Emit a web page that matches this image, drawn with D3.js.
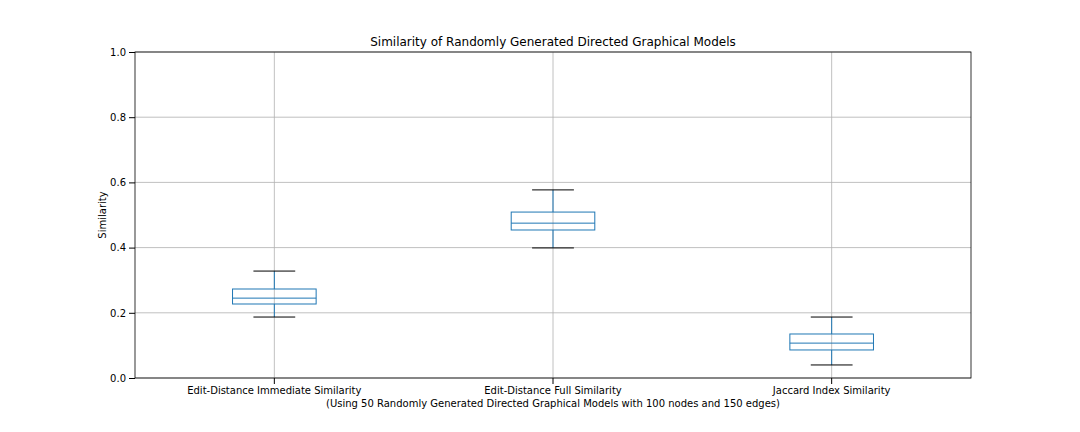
<!DOCTYPE html>
<html><head><meta charset="utf-8">
<script src="https://cdn.jsdelivr.net/npm/d3@7"></script>
<style>body{margin:0;background:#fff;font-family:"DejaVu Sans",sans-serif;}</style>
</head><body><div class="chart"></div>
<script>
// data
var categories = ["Edit-Distance Immediate Similarity", "Edit-Distance Full Similarity", "Jaccard Index Similarity"];
var whiskerLow = [0.187, 0.399, 0.040];
var q1 = [0.227, 0.454, 0.086];
var medians = [0.245, 0.475, 0.107];
var q3 = [0.273, 0.509, 0.135];
var whiskerHigh = [0.328, 0.577, 0.187];
var yTicks = [0, 0.2, 0.4, 0.6, 0.8, 1.0];

var W = 1080, H = 432;
var margin = {top: 52, right: 109, bottom: 54, left: 135};
var w = W - margin.left - margin.right, h = H - margin.top - margin.bottom;
var color = "#1f77b4";

var svg = d3.select(".chart").append("svg").attr("width", W).attr("height", H);
var g = svg.append("g").attr("transform", "translate(" + margin.left + "," + margin.top + ")");

var x = d3.scaleBand().domain(categories).range([0, w]);
var y = d3.scaleLinear().domain([0, 1]).range([h, 0]);

// grid
g.selectAll(".hgrid").data(yTicks).enter().append("line")
  .attr("x1", 0).attr("x2", w)
  .attr("y1", function (d) { return y(d); }).attr("y2", function (d) { return y(d); })
  .style("stroke", "#b0b0b0").style("stroke-width", 0.8);
g.selectAll(".vgrid").data(categories).enter().append("line")
  .attr("x1", function (d) { return x(d) + x.bandwidth() / 2; })
  .attr("x2", function (d) { return x(d) + x.bandwidth() / 2; })
  .attr("y1", 0).attr("y2", h)
  .style("stroke", "#b0b0b0").style("stroke-width", 0.8);

// boxes
var boxW = x.bandwidth() * 0.3, capW = boxW / 2;
var box = g.selectAll(".box").data(categories).enter().append("g")
  .attr("transform", function (d) { return "translate(" + (x(d) + x.bandwidth() / 2) + ",0)"; });
box.append("line").attr("x1", 0).attr("x2", 0)
  .attr("y1", function (d, i) { return y(whiskerLow[i]); }).attr("y2", function (d, i) { return y(q1[i]); })
  .style("stroke", color);
box.append("line").attr("x1", 0).attr("x2", 0)
  .attr("y1", function (d, i) { return y(q3[i]); }).attr("y2", function (d, i) { return y(whiskerHigh[i]); })
  .style("stroke", color);
box.append("line").attr("x1", -capW / 2).attr("x2", capW / 2)
  .attr("y1", function (d, i) { return y(whiskerLow[i]); }).attr("y2", function (d, i) { return y(whiskerLow[i]); })
  .style("stroke", "#000");
box.append("line").attr("x1", -capW / 2).attr("x2", capW / 2)
  .attr("y1", function (d, i) { return y(whiskerHigh[i]); }).attr("y2", function (d, i) { return y(whiskerHigh[i]); })
  .style("stroke", "#000");
box.append("rect").attr("x", -boxW / 2).attr("width", boxW)
  .attr("y", function (d, i) { return y(q3[i]); })
  .attr("height", function (d, i) { return y(q1[i]) - y(q3[i]); })
  .style("fill", "none").style("stroke", color);
box.append("line").attr("x1", -boxW / 2).attr("x2", boxW / 2)
  .attr("y1", function (d, i) { return y(medians[i]); }).attr("y2", function (d, i) { return y(medians[i]); })
  .style("stroke", color);

// axes
var ya = g.append("g").call(d3.axisLeft(y).tickValues(yTicks).tickFormat(d3.format(".1f")).tickSizeOuter(0));
var xa = g.append("g").attr("transform", "translate(0," + h + ")").call(d3.axisBottom(x).tickSizeOuter(0));
[ya, xa].forEach(function (a) {
  a.select(".domain").remove();
  a.selectAll("text").style("font-size", "10px").style("font-family", "DejaVu Sans").attr("fill", "#000");
});
g.append("rect").attr("width", w).attr("height", h).style("fill", "none").style("stroke", "#000").style("stroke-width", 0.8);

svg.append("text").attr("x", margin.left + w / 2).attr("y", 46).attr("text-anchor", "middle")
  .style("font-size", "12px").text("Similarity of Randomly Generated Directed Graphical Models");
svg.append("text").attr("x", margin.left + w / 2).attr("y", 407).attr("text-anchor", "middle")
  .style("font-size", "10px").text("(Using 50 Randomly Generated Directed Graphical Models with 100 nodes and 150 edges)");
svg.append("text").attr("transform", "translate(106," + (margin.top + h / 2) + ") rotate(-90)")
  .attr("text-anchor", "middle").style("font-size", "10px").text("Similarity");
</script></body></html>
